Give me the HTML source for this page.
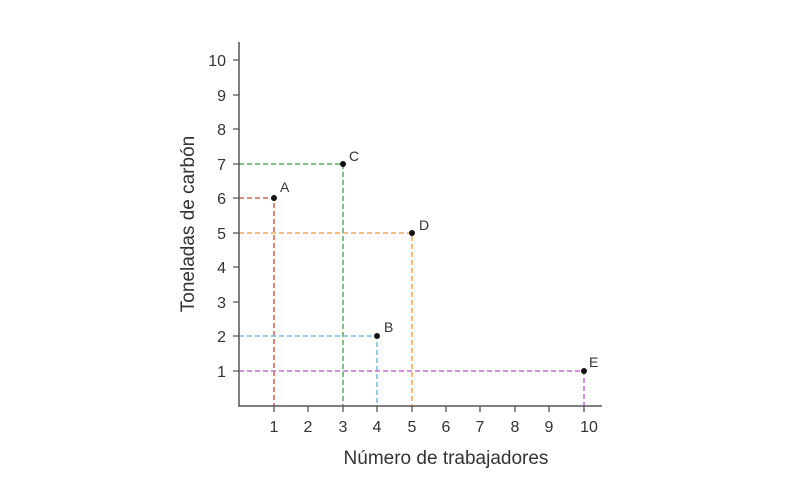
<!DOCTYPE html>
<html><head><style>body{margin:0;background:#fff}svg{display:block}text{font-family:"Liberation Sans",sans-serif;fill:#333}</style></head>
<body>
<svg width="810" height="497" viewBox="0 0 810 497">
<g stroke-width="1.3" stroke-dasharray="5,3" fill="none">
<path d="M239 198H274V406" stroke="#d9452b"/>
<path d="M239 164H343V406" stroke="#3aa040"/>
<path d="M239 233H412V406" stroke="#f0962a"/>
<path d="M239 336H377V406" stroke="#5ab0e0"/>
<path d="M239 371H584V406" stroke="#c050c8"/>
</g>
<path d="M239 42V406H602" stroke="#555" stroke-width="1.5" fill="none"/>
<g stroke="#555" stroke-width="1.3">
<path d="M233 371H239M233 336H239M233 302H239M233 267H239M233 233H239M233 198H239M233 164H239M233 129H239M233 95H239M233 60H239"/>
<path d="M274 406V412M308 406V412M343 406V412M377 406V412M412 406V412M446 406V412M480 406V412M515 406V412M549 406V412M584 406V412"/>
</g>
<g font-size="16" text-anchor="end">
<text x="226" y="377">1</text><text x="226" y="342">2</text><text x="226" y="308">3</text><text x="226" y="273">4</text><text x="226" y="239">5</text><text x="226" y="204">6</text><text x="226" y="170">7</text><text x="226" y="135">8</text><text x="226" y="101">9</text><text x="226" y="66">10</text>
</g>
<g font-size="16" text-anchor="middle">
<text x="274" y="432">1</text><text x="308" y="432">2</text><text x="343" y="432">3</text><text x="377" y="432">4</text><text x="412" y="432">5</text><text x="446" y="432">6</text><text x="480" y="432">7</text><text x="515" y="432">8</text><text x="549" y="432">9</text><text x="589" y="432">10</text>
</g>
<g fill="#111"><circle cx="274" cy="198" r="3"/><circle cx="343" cy="164" r="3"/><circle cx="412" cy="233" r="3"/><circle cx="377" cy="336" r="3"/><circle cx="584" cy="371" r="3"/></g>
<g font-size="14"><text x="280" y="192">A</text><text x="349" y="161">C</text><text x="419" y="230">D</text><text x="384" y="332">B</text><text x="589" y="367">E</text></g>
<text x="446" y="464" font-size="19" text-anchor="middle">Número de trabajadores</text>
<text transform="translate(194 224) rotate(-90)" font-size="19" text-anchor="middle">Toneladas de carbón</text>
</svg>
</body></html>
